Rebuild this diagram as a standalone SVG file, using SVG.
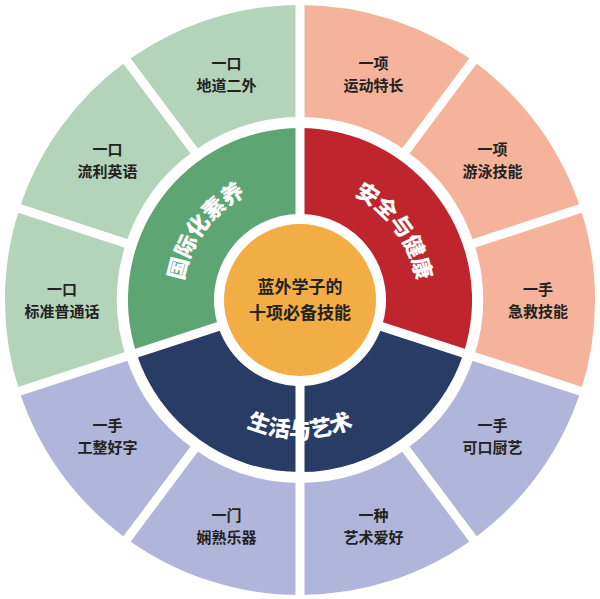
<svg xmlns="http://www.w3.org/2000/svg" width="600" height="599" viewBox="0 0 600 599">
<style>
.og{fill:#b3d4b9}.or{fill:#f4b39a}.ob{fill:#b2b5da}
.lb{font-family:"Noto Sans CJK SC",sans-serif;font-weight:bold;font-size:15px;fill:#222;text-anchor:middle}
.rt{font-family:"Noto Sans CJK SC",sans-serif;font-weight:900;font-size:22px;fill:#fff;text-anchor:middle}
.ct{font-family:"Noto Sans CJK SC",sans-serif;font-weight:bold;font-size:17px;fill:#222;text-anchor:middle}
</style>
<defs>
<path id="pg" d="M187.8,336.5 A118 118 0 0 1 300,182"/>
<path id="pr" d="M300,182 A118 118 0 0 1 412.2,336.5"/>
<path id="pb" d="M168.8,342.6 A138 138 0 0 0 431.2,342.6"/>
</defs>
<rect width="600" height="599" fill="#fff"/>
<g id="outer">
<path class="or" d="M300,5 A295 295 0 0 1 473.4,61.3 L407.6,151.9 A183 183 0 0 0 300,117 Z"/>
<path class="or" d="M473.4,61.3 A295 295 0 0 1 580.6,208.8 L474.1,243.5 A183 183 0 0 0 407.6,151.9 Z"/>
<path class="or" d="M580.6,208.8 A295 295 0 0 1 580.6,391.2 L474.1,356.5 A183 183 0 0 0 474.1,243.5 Z"/>
<path class="ob" d="M580.6,391.2 A295 295 0 0 1 473.4,538.7 L407.6,448.1 A183 183 0 0 0 474.1,356.5 Z"/>
<path class="ob" d="M473.4,538.7 A295 295 0 0 1 300,595 L300,483 A183 183 0 0 0 407.6,448.1 Z"/>
<path class="ob" d="M300,595 A295 295 0 0 1 126.6,538.7 L192.4,448.1 A183 183 0 0 0 300,483 Z"/>
<path class="ob" d="M126.6,538.7 A295 295 0 0 1 19.4,391.2 L125.9,356.5 A183 183 0 0 0 192.4,448.1 Z"/>
<path class="og" d="M19.4,391.2 A295 295 0 0 1 19.4,208.8 L125.9,243.5 A183 183 0 0 0 125.9,356.5 Z"/>
<path class="og" d="M19.4,208.8 A295 295 0 0 1 126.6,61.3 L192.4,151.9 A183 183 0 0 0 125.9,243.5 Z"/>
<path class="og" d="M126.6,61.3 A295 295 0 0 1 300,5 L300,117 A183 183 0 0 0 192.4,151.9 Z"/>
</g>
<g id="middle">
<path fill="#5da673" d="M136.4,353.2 A172 172 0 0 1 300,128 L300,214 A86 86 0 0 0 218.2,326.6 Z"/>
<path fill="#be252d" d="M300,128 A172 172 0 0 1 463.6,353.2 L381.8,326.6 A86 86 0 0 0 300,214 Z"/>
<path fill="#283c66" d="M463.6,353.2 A172 172 0 0 1 136.4,353.2 L218.2,326.6 A86 86 0 0 0 381.8,326.6 Z"/>
</g>
<g id="connectors" stroke="#fff" stroke-width="9">
<line x1="300" y1="300" x2="300" y2="0"/>
<line x1="300" y1="300" x2="300" y2="599"/>
<line x1="300" y1="300" x2="585.3" y2="392.7"/>
<line x1="300" y1="300" x2="14.7" y2="392.7"/>
<line x1="405" y1="152" x2="476" y2="57"/>
<line x1="472" y1="244" x2="585" y2="207"/>
<line x1="405" y1="448" x2="476" y2="543"/>
<line x1="195" y1="448" x2="124" y2="543"/>
<line x1="128" y1="244" x2="15" y2="207"/>
<line x1="195" y1="152" x2="124" y2="57"/>
</g>
<g id="center">
<circle cx="300" cy="300" r="76" fill="#f2ad45"/>
<text class="ct" x="300" y="293">蓝外学子的</text>
<text class="ct" x="300" y="319">十项必备技能</text>
</g>
<g id="ringlabels">
<text class="rt"><textPath href="#pg" startOffset="50%">国际化素养</textPath></text>
<text class="rt"><textPath href="#pr" startOffset="50%">安全与健康</textPath></text>
<text class="rt"><textPath href="#pb" startOffset="50%">生活与艺术</textPath></text>
</g>
<g id="labels">
<text class="lb" x="226.5" y="69">一口<tspan x="226.5" dy="22">地道二外</tspan></text>
<text class="lb" x="107.5" y="155">一口<tspan x="107.5" dy="22">流利英语</tspan></text>
<text class="lb" x="62" y="295">一口<tspan x="62" dy="22">标准普通话</tspan></text>
<text class="lb" x="373.5" y="69">一项<tspan x="373.5" dy="22">运动特长</tspan></text>
<text class="lb" x="492.5" y="155">一项<tspan x="492.5" dy="22">游泳技能</tspan></text>
<text class="lb" x="538" y="295">一手<tspan x="538" dy="22">急救技能</tspan></text>
<text class="lb" x="492.5" y="431">一手<tspan x="492.5" dy="22">可口厨艺</tspan></text>
<text class="lb" x="373.5" y="521">一种<tspan x="373.5" dy="22">艺术爱好</tspan></text>
<text class="lb" x="226.5" y="521">一门<tspan x="226.5" dy="22">娴熟乐器</tspan></text>
<text class="lb" x="107.5" y="431">一手<tspan x="107.5" dy="22">工整好字</tspan></text>
</g>
</svg>
